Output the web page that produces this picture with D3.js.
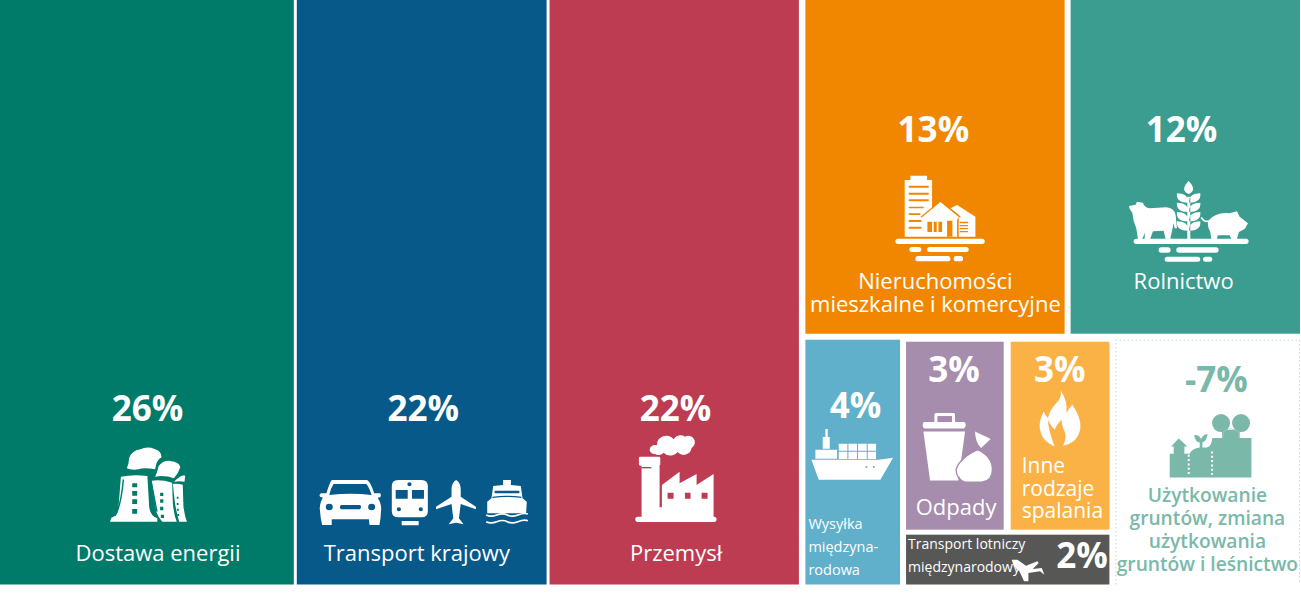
<!DOCTYPE html>
<html>
<head>
<meta charset="utf-8">
<script src="https://cdn.jsdelivr.net/npm/d3@7"></script>
<style>
body { margin: 0; background: #fff; overflow: hidden; }
text { font-family: "Open Sans", sans-serif; }
.pct { font-size: 35px; font-weight: 700; }
</style>
</head>
<body>
<svg id="chart" width="1301" height="608"></svg>

<script>
var categories = ["energy", "transport", "industry", "buildings", "farming", "shipping", "waste", "burning", "aviation", "land"];
var shares = [26, 22, 22, 13, 12, 4, 3, 3, 2, -7];
// tile sizes, the printed shares are rounded
var tileSizes = [26.08, 22.21, 22.17, 13.42, 11.91, 3.76, 3.03, 3.06, 1.73, 7.12];
var labels = [
  ["Dostawa energii"],
  ["Transport krajowy"],
  ["Przemysł"],
  ["Nieruchomości", "mieszkalne i komercyjne"],
  ["Rolnictwo"],
  ["Wysyłka", "międzyna-", "rodowa"],
  ["Odpady"],
  ["Inne", "rodzaje", "spalania"],
  ["Transport lotniczy", "międzynarodowy"],
  ["Użytkowanie", "gruntów, zmiana", "użytkowania", "gruntów i leśnictwo"]
];
var colors = ["#007b69", "#07598a", "#bd3c52", "#f18700", "#3a9d8f", "#60b0cb", "#a68cad", "#fab246", "#575756", "#ffffff"];
var landColor = "#7ab8a9";

// where the text sits inside each tile
var pctPos = [[147.5, 421], [126.5, 421], [126, 421], [128, 142], [111, 142], [50, 418], [48, 382], [49, 382], [176, 568], [101, 392]];
var labelPos = [
  {x: 158, y: 561, size: 22, anchor: "middle", lh: 23},
  {x: 120, y: 561, size: 22, anchor: "middle", lh: 23},
  {x: 126.5, y: 561, size: 22, anchor: "middle", lh: 23},
  {x: 130, y: 289, size: 22, anchor: "middle", lh: 23},
  {x: 113, y: 289, size: 22, anchor: "middle", lh: 23},
  {x: 3, y: 529, size: 14.5, anchor: "start", lh: 23},
  {x: 50, y: 515, size: 22, anchor: "middle", lh: 23},
  {x: 11, y: 473, size: 21, anchor: "start", lh: 22.5},
  {x: 2, y: 549, size: 14, anchor: "start", lh: 23},
  {x: 92, y: 502, size: 19.2, anchor: "middle", lh: 23}
];

// icons are drawn at about 3x, dx/dy move them from the tile corner
var icons = {
  energy: {dx: -1, dy: 380, sx: 1 / 2.83,
    fg: "M314 425L318 413Q335 410 338 385L345 290Q380 282 420 288L425 380Q428 408 448 415L448 425Z" +
        "M432 302Q460 298 490 308L492 370Q495 405 503 425L462 425Q450 410 445 395Z" +
        "M492 312Q505 310 520 314L522 380Q526 410 532 425L510 425Q503 400 498 370Z" +
        "M362 265Q368 250 368 235Q375 212 400 208Q420 198 440 207Q460 212 460 232Q445 240 442 268Q410 262 395 268Q375 272 362 265Z" +
        "M442 290Q450 270 452 258Q465 240 485 243Q510 245 513 262Q508 280 495 295Q470 285 442 290Z" +
        "M495 305Q505 295 512 290Q520 285 527 287L525 305Q510 303 495 305Z",
    cut: "M377 310h14v12h-14zM377 333h14v14h-14zM377 358h14v14h-14zM377 387h14v14h-14z" +
         "M456 338h9v10h-9zM456 358h9v10h-9zM456 380h9v11h-9zM458 404h9v10h-9z" +
         "M503 350h5v6h-5zM503 369h5v6h-5zM504 386h5v6h-5zM505 402h5v6h-5z",
    line: "M352 298Q345 380 328 408M430 302L447 395"},
  transport: {dx: -299, dy: 380, sx: 1 / 2.83,
    fg: "M945 300L1045 300Q1055 305 1065 340L1082 340Q1086 345 1082 352L1075 353Q1085 370 1085 385L1083 415L1080 435L1052 435L1050 418L945 418L945 435L918 435L914 415L911 385Q912 365 920 353L912 350Q908 343 915 340L930 340Q938 310 945 300Z" +
        "M1133 300h66q18 0 18 18v76q0 18-18 18h-66q-18 0-18-18v-76q0-18 18-18zM1143 423h48v13h-48z" +
        "M1297 300Q1310 308 1310 330L1310 350L1353 380L1353 388L1310 372L1305 415L1318 433L1297 428L1276 433L1289 415L1284 372L1240 388L1240 380L1284 350L1284 330Q1284 308 1297 300Z" +
        "M1430 300L1452 300L1452 315L1480 318L1485 355L1497 365L1495 400L1385 400L1385 365L1397 355L1402 318L1430 315Z",
    cut: "M950 312L1043 312Q1050 320 1058 345Q1000 338 938 345Q942 325 950 312Z" +
         "M928 381a10 10 0 1 0 20 0a10 10 0 1 0-20 0zM1048 381a10 10 0 1 0 20 0a10 10 0 1 0-20 0zM971 375h54q6 6 0 13h-54q-6-6 0-13z" +
         "M1126 330h34v26h-34zM1172 330h34v26h-34zM1159 313a6 6 0 1 0 12 0a6 6 0 1 0-12 0zM1129 388a6 6 0 1 0 12 0a6 6 0 1 0-12 0zM1191 388a6 6 0 1 0 12 0a6 6 0 1 0-12 0z" +
         "M1406 332h70v8h-70z",
    line: "M1400 352Q1440 346 1482 352",
    stroke: "M1382 405Q1395 412 1412 405T1442 405T1472 405T1500 402M1382 425Q1395 432 1412 425T1442 425T1472 425T1500 422"},
  industry: {dx: 0, dy: 380,
    fg: "M272 230h56q4 0 4 4v19q0 4-4 4h-56q-4 0-4-4v-19q0-4 4-4z" +
        "M276 257h54v125h7V315L390 275V310L441 282V315L492 282V410H493q8 0 8 8t-8 8H265q-8 0-8-8t8-8h11z" +
        "M300 210a16 16 0 0 1 22-14a28 28 0 0 1 50-18a24 24 0 0 1 34-8a18 18 0 0 1 20 34a24 24 0 0 1-42 12a28 28 0 0 1-42 2a20 20 0 0 1-26 4a16 16 0 0 1-16-12z",
    cut: "M354 338h18v18h-18zM406 338h17v18h-17zM456 338h18v18h-18z",
    line: "M276 263H305"},
  buildings: {dx: -5, dy: 100,
    fg: "M330 227h50v13h15v170H313V240h17z" +
        "M450 325L470 315L525 350V410H475V345Z" +
        "M365 350L420 305L475 350L470 360V410H368V360Z" +
        "M293 416h252q8 0 8 8t-8 8H293q-8 0-8-8t8-8z" +
        "M335 441h20q8 0 8 7.5t-8 7.5h-20q-8 0-8-7.5t8-7.5zM388 441h109q8 0 8 7.5t-8 7.5H388q-8 0-8-7.5t8-7.5z" +
        "M353 468h89q8 0 8 8t-8 8h-89q-8 0-8-8t8-8zM468 468h12q8 0 8 8t-8 8h-12q-8 0-8-8t8-8z",
    cut: "M325 257h60v6h-60zM325 278h60v6h-60zM325 298h60v6h-60zM325 320h45v5h-45zM325 340h35v5h-35zM325 360h38v6h-38zM325 380h38v6h-38z" +
         "M381 365h14v31h-14zM400 365h9v31h-9zM414 365h11v31h-11zM440 362h16v48h-16z" +
         "M478 365h25v5h-25zM478 375h25v4h-25zM478 384h25v4h-25zM478 393h25v4h-25z",
    line: "M362 352L420 303L480 352"},
  farming: {dx: -271, dy: 100,
    fg: "M1010 416h329q8 0 8 8t-8 8H1010q-8 0-8-8t8-8z" +
        "M1085 442h20q8 0 8 8t-8 8h-20q-8 0-8-8t8-8zM1138 442h111q8 0 8 8t-8 8H1138q-8 0-8-8t8-8z" +
        "M1103 470h91q8 0 8 7.5t-8 7.5h-91q-8 0-8-7.5t8-7.5zM1218 470h12q8 0 8 7.5t-8 7.5h-12q-8 0-8-7.5t8-7.5z" +
        "M988 318L1008 314L1012 305L1030 308Q1034 322 1050 325L1100 322Q1124 324 1128 345L1132 385L1125 385L1122 370Q1118 390 1112 416H1098L1092 392L1060 394L1052 416H1035L1036 398L1028 416H1015L1010 385Q1000 362 998 338Q988 328 988 318Z" +
        "M1167 243C1185 262 1185 275 1167 282C1149 275 1149 262 1167 243ZM1163 290h9v126h-9z" +
        "M1165 308C1140 308 1130 298 1132 280C1155 280 1167 290 1165 308ZM1169 308C1194 308 1204 298 1202 280C1179 280 1167 290 1169 308Z" +
        "M1165 336C1140 336 1130 326 1132 308C1155 308 1167 318 1165 336ZM1169 336C1194 336 1204 326 1202 308C1179 308 1167 318 1169 336Z" +
        "M1165 364C1140 364 1130 354 1132 336C1155 336 1167 346 1165 364ZM1169 364C1194 364 1204 354 1202 336C1179 336 1167 346 1169 364Z" +
        "M1165 392C1140 392 1130 382 1132 364C1155 364 1167 374 1165 392ZM1169 392C1194 392 1204 382 1202 364C1179 364 1167 374 1169 392Z" +
        "M1226 362Q1250 335 1290 340L1312 334L1320 350L1345 370L1336 386L1318 396L1312 416H1295L1290 406H1255L1252 416H1235L1232 396Q1222 380 1226 362Z",
    stroke: "M1228 364Q1212 366 1205 352"},
  shipping: {dx: -255, dy: 40,
    fg: "M825 148h7v24h6v35h-21v-35h8zM795 210h65v27h-65z" +
        "M865 192h26v21h-26zM894 192h26v21h-26zM923 192h26v21h-26zM952 192h25v21h-25z" +
        "M865 216h26v22h-26zM894 216h26v22h-26zM923 216h26v22h-26zM952 216h25v22h-25z" +
        "M783 240L985 240L1028 234L990 300H805Z",
    cut: "M945 262a3 3 0 1 0 6 0a3 3 0 1 0-6 0zM967 262a3 3 0 1 0 6 0a3 3 0 1 0-6 0z"},
  waste: {dx: -6, dy: -12,
    fg: "M103 277V255q0-5 5-5h52q5 0 5 5v22h25q7 0 7 9t-7 10H75q-7 0-7-10t7-9z" +
        "M70 305H195L175 452H90Z" +
        "M225 305L272 328L243 355Q225 335 225 305Z" +
        "M232 362Q275 380 275 420Q275 452 245 455H195Q175 450 172 420Q180 385 232 362Z",
    cut: "M112 277h44v-18h-44z",
    line: "M232 358Q178 385 168 420Q170 445 190 460"},
  burning: {dx: -111, dy: -12,
    fg: "M483 182Q505 215 500 250Q505 240 518 225Q545 265 542 295Q535 340 490 348Q505 320 490 295Q487 285 485 270Q470 285 465 300Q450 285 445 270Q445 300 465 350Q425 335 420 295Q418 270 432 245Q435 255 445 265Q450 240 470 220Q487 205 483 182Z"},
  aviation: {dx: -6, dy: -205,
    fg: "M335 690L352 690L378 708L412 695L416 700L398 718L425 715L433 735L420 725L385 730L385 755L372 755L358 725Q340 712 335 690Z"},
  land: {dx: -215, dy: -10,
    fg: "M808 443V372H820V350H812L835 326L861 350H852V372H868Q875 355 898 353V338Q885 338 881 316Q897 315 902 328Q907 315 922 313Q918 336 906 338V353H920Q933 350 936 325H965V300H1018V325H1053V443Z" +
        "M935 280a27 27 0 1 1 54 0a27 27 0 1 1-54 0zM995 280a27 27 0 1 1 54 0a27 27 0 1 1-54 0z",
    line: "M968 325V306L991 296L1016 306V325",
    dots: "M865 375V435M935 365V435"}
};

// nesting of the tiles, the leaves are indexes into the arrays above
var tree = {name: "all", children: [
  {leaf: 0}, {leaf: 1}, {leaf: 2},
  {name: "rest", children: [
    {name: "top", children: [{leaf: 3}, {leaf: 4}]},
    {name: "bottom", children: [
      {leaf: 5},
      {name: "mid", children: [
        {name: "pair", children: [{leaf: 6}, {leaf: 7}]},
        {leaf: 8}
      ]},
      {leaf: 9}
    ]}
  ]}
]};

var gaps = {all: 3, rest: 6, top: 6, bottom: 6, mid: 5, pair: 7};

var root = d3.hierarchy(tree).sum(function(d) { return d.leaf === undefined ? 0 : tileSizes[d.leaf]; });

d3.treemap()
  .tile(d3.treemapSliceDice)
  .size([1300, 584.5])
  .paddingInner(function(n) { return gaps[n.data.name]; })
  .paddingLeft(function(n) { return n.data.name == "rest" ? 3.5 : 0; })
  .paddingTop(function(n) { return n.data.name == "mid" ? 2 : 0; })(root);

var svg = d3.select("#chart");
var tiles = svg.selectAll("g.tile")
  .data(root.leaves())
  .join("g")
  .attr("class", "tile");

tiles.append("rect")
  .attr("x", function(d) { return d.x0; })
  .attr("y", function(d) { return d.y0; })
  .attr("width", function(d) { return d.x1 - d.x0; })
  .attr("height", function(d) { return d.y1 - d.y0; })
  .attr("fill", function(d) { return colors[d.data.leaf]; });

// the land tile has only a dotted edge on three sides
var land = tiles.filter(function(d) { return categories[d.data.leaf] == "land"; });
land.append("path")
  .attr("d", function(d) {
    var p = d3.path();
    p.moveTo(d.x0 + 0.5, d.y1);
    p.lineTo(d.x0 + 0.5, d.y0 + 0.5);
    p.lineTo(d.x1 - 0.5, d.y0 + 0.5);
    p.lineTo(d.x1 - 0.5, d.y1);
    return p.toString();
  })
  .attr("fill", "none")
  .attr("stroke", "#b5dcd3")
  .attr("stroke-dasharray", "1.5,2.5");

tiles.each(function(d) {
  var i = d.data.leaf,
      g = d3.select(this),
      isLand = categories[i] == "land",
      ink = isLand ? landColor : "#fff",
      icon = icons[categories[i]],
      iconG = g.append("g")
        .attr("transform", "translate(" + (d.x0 + icon.dx) + "," + (d.y0 + icon.dy) + ") scale(" + (icon.sx || 1 / 3) + "," + (1 / 3) + ")");

  iconG.append("path").attr("d", icon.fg).attr("fill", ink);
  if (icon.cut) iconG.append("path").attr("d", icon.cut).attr("fill", colors[i]);
  if (icon.line) iconG.append("path").attr("d", icon.line).attr("fill", "none").attr("stroke", isLand ? "#a5d0c6" : colors[i]).attr("stroke-width", isLand ? 2 : 4);
  if (icon.stroke) iconG.append("path").attr("d", icon.stroke).attr("fill", "none").attr("stroke", ink).attr("stroke-width", 5);
  if (icon.dots) iconG.append("path").attr("d", icon.dots).attr("fill", "none").attr("stroke", "#fff").attr("stroke-width", 6).attr("stroke-dasharray", "6,7");

  g.append("text")
    .attr("class", "pct")
    .attr("x", d.x0 + pctPos[i][0])
    .attr("y", pctPos[i][1])
    .attr("text-anchor", "middle")
    .attr("fill", ink)
    .text(shares[i] + "%");

  var lp = labelPos[i];
  g.selectAll("text.label")
    .data(labels[i])
    .join("text")
    .attr("class", "label")
    .attr("x", d.x0 + lp.x)
    .attr("y", function(s, k) { return lp.y + k * lp.lh; })
    .attr("text-anchor", lp.anchor)
    .attr("font-size", lp.size)
    .attr("font-weight", isLand ? 600 : 400)
    .attr("fill", ink)
    .text(function(s) { return s; });
});

// the plane sits over the aviation label
tiles.filter(function(d) { return categories[d.data.leaf] == "aviation"; }).select("g").raise();
</script>
</body>
</html>
